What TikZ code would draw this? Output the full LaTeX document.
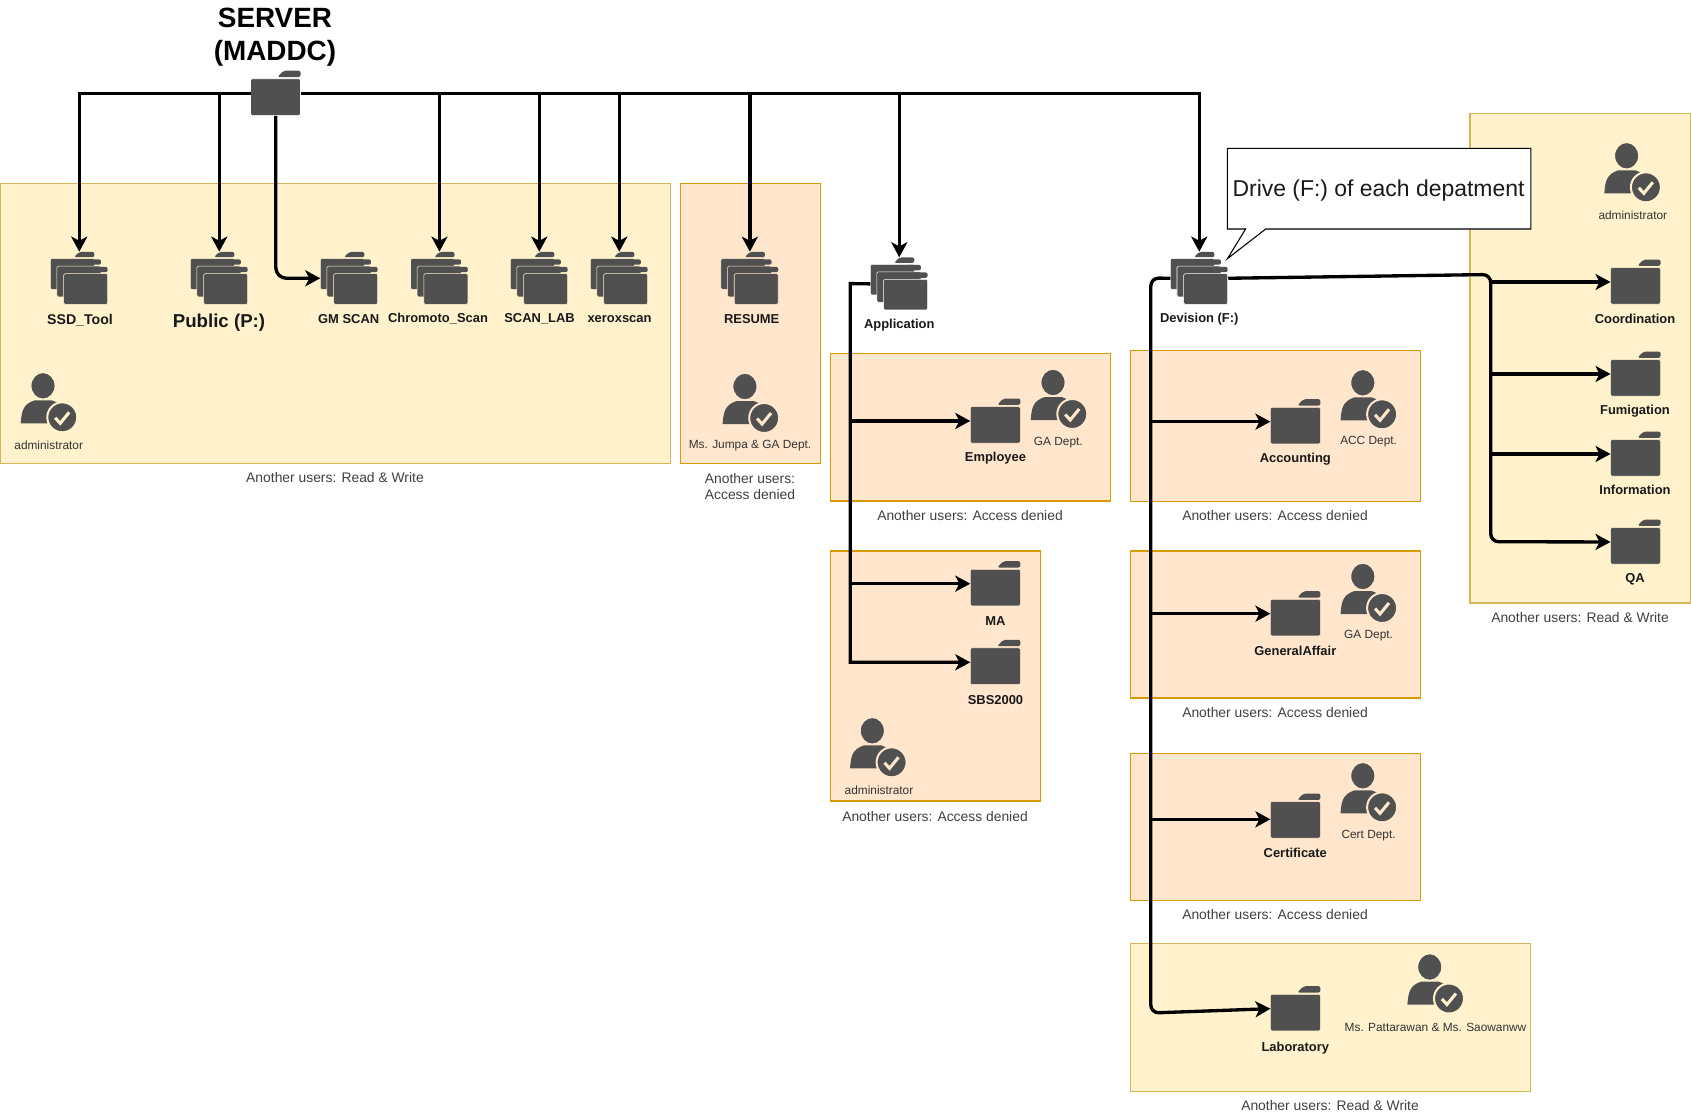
\documentclass[tikz,border=0pt]{standalone}
\usepackage{fontspec}
\setmainfont{Liberation Sans}
\usepackage{tikz}
\usetikzlibrary{arrows.meta}
\definecolor{icongray}{HTML}{505050}
\definecolor{yellowzone}{HTML}{FFF2CC}
\definecolor{yellowline}{HTML}{D6B656}
\definecolor{orangezone}{HTML}{FFE6CC}
\definecolor{orangeline}{HTML}{D79B00}
\newcommand{\folderglyph}[1]{
	\filldraw[fill=icongray,draw=#1,line width=.4pt,rounded corners=1pt] (0,44.8) -- (0,8.3) -- (50,8.3) -- (50,44.8) -- cycle;
	\fill[icongray,rounded corners=1.5pt] (27,6.5) -- (33,.2) -- (50,.2) -- (50,6.5) -- cycle;
}
\newcommand{\userglyph}[1]{
	\fill[icongray] (0,50) .. controls (1,38) and (2,31) .. (14,27) -- (31,27) .. controls (38,29) and (42,32) .. (42,50) -- cycle;
	\filldraw[fill=icongray,draw=#1,line width=1.1pt] (22.3,12.5) ellipse (12.3 and 13.5);
	\filldraw[fill=icongray,draw=#1,line width=1.5pt] (41.6,44) circle (15);
	\draw[#1,line width=2.3pt] (34.5,44.5) -- (39.5,50) -- (48.5,39);
}
\newcommand{\placefolder}[4]{
	\node[folderbox] (#1) at (#2,#3) {};
	\begin{scope}[shift={(#2,#3)}]
		\folderglyph{#4}
	\end{scope}
}
\newcommand{\placefolderset}[4]{
	\node[foldersetbox] (#1) at (#2,#3) {};
	\foreach \off in {0,1,2} {
		\begin{scope}[shift={(#2+6.67*\off,#3+7.5*\off)},xscale=.88,yscale=.84]
			\folderglyph{#4}
		\end{scope}
	}
}
\newcommand{\placeuser}[4]{
	\node[userbox] (#1) at (#2,#3) {};
	\begin{scope}[shift={(#2,#3)}]
		\userglyph{#4}
	\end{scope}
}
\tikzset{
	flow/.style={line width=2.5pt,-{Stealth[length=11.25pt,width=12pt,inset=3pt]}},
	yellowbox/.style={fill=yellowzone,draw=yellowline,line width=.8pt},
	orangebox/.style={fill=orangezone,draw=orangeline,line width=.8pt},
	folderbox/.style={anchor=north west,inner sep=0pt,minimum width=37.5pt,minimum height=33.6pt},
	foldersetbox/.style={anchor=north west,inner sep=0pt,minimum width=43.05pt,minimum height=39.45pt},
	userbox/.style={anchor=north west,inner sep=0pt,minimum width=42pt,minimum height=43.5pt},
	boldlabel/.style={inner sep=0pt,yshift=-.8pt,text=black!90,font=\fontsize{9.7}{11}\selectfont\bfseries},
	userlabel/.style={inner sep=0pt,yshift=-.6pt,text=black!80,font=\fontsize{8.9}{11}\selectfont},
	zonelabel/.style={inner sep=0pt,text=black!75,align=center,font=\fontsize{10.4}{12}\selectfont}
}
\begin{document}
\begin{tikzpicture}[x=.75pt,y=-.75pt]
	\useasboundingbox (0,0) rectangle (1691,1114);
	\draw[yellowbox] (.5,183.3) rectangle (670.8,463.3);
	\draw[orangebox] (680.5,183.3) rectangle (820.7,463.3);
	\draw[orangebox] (830.3,353.3) rectangle (1110.3,501);
	\draw[orangebox] (830.3,551) rectangle (1040.7,801);
	\draw[orangebox] (1130.3,350.7) rectangle (1420.4,501.5);
	\draw[orangebox] (1130.3,551) rectangle (1420.4,698);
	\draw[orangebox] (1130.3,753.3) rectangle (1420.4,900.5);
	\draw[yellowbox] (1130.3,943.7) rectangle (1530.4,1091.4);
	\draw[yellowbox] (1470,113.3) rectangle (1690.5,603);
	\draw[fill=white,line width=.8pt,line join=miter] (1227.4,148.3) -- (1530.8,148.3) -- (1530.8,229) -- (1265.7,229) -- (1227.4,258.7) -- (1245.6,229) -- (1227.4,229) -- cycle;
	\node[inner sep=0pt,text=black!90,font=\fontsize{17.2}{20}\selectfont] (drivenote) at (1378.5,191) {Drive (F:) of each depatment};

	\node[inner sep=0pt,align=center,font=\fontsize{20.9}{24.7}\selectfont\bfseries] (servertitle) at (275,37) {SERVER\\(MADDC)};
	\placefolder{server}{250.5}{70.5}{white}

	\placefolderset{ssdtool}{50.3}{251.7}{yellowzone}
	\placefolderset{public}{190.3}{251.7}{yellowzone}
	\placefolderset{gmscan}{320.3}{251.7}{yellowzone}
	\placefolderset{chromoto}{410.5}{251.7}{yellowzone}
	\placefolderset{scanlab}{510.3}{251.7}{yellowzone}
	\placefolderset{xeroxscan}{590.3}{251.7}{yellowzone}
	\placefolderset{resume}{720.9}{251.7}{orangezone}
	\placefolderset{application}{870.3}{257.3}{white}
	\placefolderset{devision}{1170.3}{251.7}{white}

	\node[boldlabel,font=\fontsize{10.6}{12}\selectfont\bfseries] (ssdlabel) at (80,319.5) {SSD\_Tool};
	\node[boldlabel,font=\fontsize{14}{16}\selectfont\bfseries] (publiclabel) at (219,321.5) {Public (P:)};
	\node[boldlabel] (gmlabel) at (348.7,318) {GM SCAN};
	\node[boldlabel] (chromotolabel) at (438,318) {Chromoto\_Scan};
	\node[boldlabel] (scanlablabel) at (539.5,318) {SCAN\_LAB};
	\node[boldlabel] (xeroxlabel) at (619.5,318) {xeroxscan};
	\node[boldlabel] (resumelabel) at (751.7,317.5) {RESUME};
	\node[boldlabel] (applicationlabel) at (899.3,324.3) {Application};
	\node[boldlabel] (devisionlabel) at (1199.3,318) {Devision (F:)};

	\placefolder{employee}{970.3}{398.3}{orangezone}
	\placefolder{ma}{970.3}{561}{orangezone}
	\placefolder{sbs}{970.3}{639.6}{orangezone}
	\placefolder{accounting}{1270.4}{399}{orangezone}
	\placefolder{general}{1270.4}{591}{orangezone}
	\placefolder{certificate}{1270.4}{793.3}{orangezone}
	\placefolder{laboratory}{1270.4}{986}{yellowzone}
	\placefolder{coordination}{1610.5}{259.3}{yellowzone}
	\placefolder{fumigation}{1610.5}{351.3}{yellowzone}
	\placefolder{information}{1610.5}{431.3}{yellowzone}
	\placefolder{qa}{1610.5}{519.3}{yellowzone}

	\node[boldlabel] (employeelabel) at (995.5,457.3) {Employee};
	\node[boldlabel] (malabel) at (995.5,620) {MA};
	\node[boldlabel] (sbslabel) at (995.5,698.5) {SBS2000};
	\node[boldlabel] (accountinglabel) at (1295.3,458.4) {Accounting};
	\node[boldlabel] (generallabel) at (1295.3,650) {GeneralAffair};
	\node[boldlabel] (certificatelabel) at (1295.3,852) {Certificate};
	\node[boldlabel] (laboratorylabel) at (1295.3,1047.2) {Laboratory};
	\node[boldlabel] (coordinationlabel) at (1635,318) {Coordination};
	\node[boldlabel] (fumigationlabel) at (1635,410) {Fumigation};
	\node[boldlabel] (informationlabel) at (1635,489) {Information};
	\node[boldlabel] (qalabel) at (1635,578) {QA};

	\placeuser{adminone}{20.7}{373.3}{yellowzone}
	\placeuser{jumpa}{722.6}{374}{orangezone}
	\placeuser{gaone}{1030.7}{370}{orangezone}
	\placeuser{admintwo}{850}{718.3}{orangezone}
	\placeuser{acc}{1340.5}{370.3}{orangezone}
	\placeuser{gatwo}{1340.5}{564}{orangezone}
	\placeuser{cert}{1340.5}{763.3}{orangezone}
	\placeuser{pattarawan}{1407.4}{954.5}{yellowzone}
	\placeuser{adminthree}{1604.3}{143.3}{yellowzone}

	\node[userlabel] (adminonelabel) at (48.7,444.7) {administrator};
	\node[userlabel] (jumpalabel) at (750,444.3) {Ms. Jumpa \& GA Dept.};
	\node[userlabel] (gaonelabel) at (1058.3,441.7) {GA Dept.};
	\node[userlabel] (admintwolabel) at (879,789.5) {administrator};
	\node[userlabel] (acclabel) at (1368.6,441) {ACC Dept.};
	\node[userlabel] (gatwolabel) at (1368.6,635) {GA Dept.};
	\node[userlabel] (certlabel) at (1368.6,834.8) {Cert Dept.};
	\node[userlabel] (pattarawanlabel) at (1435.5,1026.7) {Ms. Pattarawan \& Ms. Saowanww};
	\node[userlabel] (adminthreelabel) at (1632.8,214.6) {administrator};

	\node[zonelabel] (zoneone) at (335,478) {Another users: Read \& Write};
	\node[zonelabel] (zonetwo) at (750,487) {Another users:\\Access denied};
	\node[zonelabel] (zonethree) at (970,515.3) {Another users: Access denied};
	\node[zonelabel] (zonefour) at (935,816.4) {Another users: Access denied};
	\node[zonelabel] (zonefive) at (1275,515.5) {Another users: Access denied};
	\node[zonelabel] (zonesix) at (1275,712.9) {Another users: Access denied};
	\node[zonelabel] (zoneseven) at (1275,914.6) {Another users: Access denied};
	\node[zonelabel] (zoneeight) at (1330,1105.5) {Another users: Read \& Write};
	\node[zonelabel] (zonenine) at (1580,618) {Another users: Read \& Write};

	\coordinate (apptrunk) at (850.3,283.6);
	\coordinate (divtrunk) at (1150.8,278);
	\coordinate (labcorner) at (1150.8,1013);
	\coordinate (fanturn) at (1490.7,274.5);
	\coordinate (fancorner) at (1490.7,541.7);

	\draw[flow] (server.west) -| (ssdtool.north);
	\draw[flow] (server.west) -| (public.north);
	\draw[flow,rounded corners=8pt] (server.south) |- (gmscan.west);
	\draw[flow] (server.east) -| (chromoto.north);
	\draw[flow] (server.east) -| (scanlab.north);
	\draw[flow] (server.east) -| (xeroxscan.north);
	\draw[flow] (server.east) -| (resume.north);
	\draw[flow] (server.east) -| (application.north);
	\draw[flow] (server.east) -| (devision.north);

	\draw[flow] (application.west) -- (apptrunk) |- (sbs.west);
	\draw[flow] (employee.west -| apptrunk) -- (employee.west);
	\draw[flow] (ma.west -| apptrunk) -- (ma.west);

	\draw[flow,rounded corners=6pt] (devision.west) -- (divtrunk) -- (labcorner) -- (laboratory.west);
	\draw[flow] (accounting.west -| divtrunk) -- (accounting.west);
	\draw[flow] (general.west -| divtrunk) -- (general.west);
	\draw[flow] ([yshift=-2.5pt]certificate.west -| divtrunk) -- ([yshift=-2.5pt]certificate.west);

	\draw[flow,rounded corners=6pt] (devision.east) -- (fanturn) -- (fancorner) -- (qa.west);
	\draw[flow] (coordination.west -| fanturn) -- (coordination.west);
	\draw[flow] (fumigation.west -| fanturn) -- (fumigation.west);
	\draw[flow] (information.west -| fanturn) -- (information.west);
\end{tikzpicture}
\end{document}
